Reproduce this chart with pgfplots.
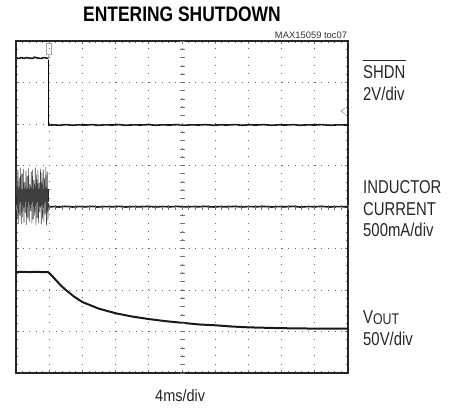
\documentclass[border=0pt]{standalone}
\usepackage{pgfplots}
\pgfplotsset{compat=1.18}
\usepackage{fontspec}
\setmainfont{Liberation Sans}
\begin{document}
\begin{tikzpicture}
\useasboundingbox (0,0) rectangle (450bp,-408bp);
\begin{axis}[
  scale only axis, width=332bp, height=332bp,
  at={(16bp,-373bp)}, anchor=south west,
  xmin=0, xmax=10, ymin=0, ymax=8,
  xtick={0,...,10}, ytick={0,...,8},
  xticklabels={}, yticklabels={},
  minor x tick num=4, minor y tick num=4,
  major tick length=3bp, minor tick length=2.2bp,
  tick style={black!55, line width=0.7bp},
  grid=major,
  x grid style={black!60, line width=0.8bp, dash pattern=on 1bp off 7.3bp},
  y grid style={black!60, line width=0.8bp, dash pattern=on 1bp off 5.64bp},
  axis line style={line width=2bp, black!85},
  clip=true,
]
% SHDN
\addplot[black!90, line width=1.6bp] coordinates {(0,7.59)(0.1,7.58)(0.15,7.60)(0.25,7.58)(0.3,7.60)(0.4,7.59)(0.5,7.58)(0.55,7.61)(0.65,7.59)(0.75,7.58)(0.85,7.60)(0.97,7.58)};
\addplot[black, line width=0.8bp] coordinates {(0.97,7.58)(0.97,5.97)};
\addplot[black!90, line width=1.6bp] coordinates {(0.97,5.97)(1.15,5.98)(1.3,5.97)(1.5,5.985)(1.7,5.97)(1.85,5.98)(2.1,5.975)(2.3,5.985)(2.45,5.97)(2.7,5.98)(2.9,5.975)(3.1,5.985)(3.3,5.97)(3.55,5.98)(3.75,5.975)(4.0,5.985)(4.2,5.97)(4.4,5.98)(4.65,5.975)(4.85,5.985)(5.05,5.97)(5.3,5.98)(5.5,5.975)(5.7,5.985)(5.95,5.97)(6.15,5.98)(6.35,5.975)(6.6,5.985)(6.8,5.97)(7.0,5.98)(7.25,5.975)(7.45,5.985)(7.7,5.97)(7.9,5.98)(8.1,5.975)(8.35,5.985)(8.55,5.97)(8.8,5.98)(9.0,5.975)(9.2,5.985)(9.45,5.97)(9.7,5.98)(10,5.975)};
% Inductor current burst
\addplot[fill=black!85, draw=black!85, line width=0.4bp] coordinates {(0,4.13)(0.98,4.13)(0.98,4.42)(0,4.42)} -- cycle;
\addplot[black!75, line width=0.55bp] coordinates {(0.00,4.30)(0.02,4.85)(0.04,3.70)(0.06,4.90)(0.08,3.60)(0.10,4.70)(0.12,3.80)(0.14,4.95)(0.16,3.58)(0.18,4.80)(0.20,3.75)(0.22,4.92)(0.24,3.62)(0.26,4.60)(0.28,3.85)(0.30,4.88)(0.32,3.57)(0.34,4.75)(0.36,3.72)(0.38,4.93)(0.40,3.65)(0.42,4.55)(0.44,3.90)(0.46,4.85)(0.48,3.60)(0.50,4.90)(0.52,3.70)(0.54,4.65)(0.56,3.80)(0.58,4.95)(0.60,3.56)(0.62,4.78)(0.64,3.74)(0.66,4.88)(0.68,3.62)(0.70,4.58)(0.72,3.88)(0.74,4.92)(0.76,3.58)(0.78,4.82)(0.80,3.70)(0.82,4.90)(0.84,3.64)(0.86,4.70)(0.88,3.82)(0.90,4.96)(0.92,3.55)(0.94,4.85)(0.96,3.68)(0.98,4.10)(1.00,4.00)};
\addplot[black!90, line width=1.6bp] coordinates {(0.98,4.00)(1.15,4.01)(1.3,4.00)(1.5,4.015)(1.7,4.00)(1.85,4.01)(2.1,4.005)(2.3,4.015)(2.45,4.00)(2.7,4.01)(2.9,4.005)(3.1,4.015)(3.3,4.00)(3.55,4.01)(3.75,4.005)(4.0,4.015)(4.2,4.00)(4.4,4.01)(4.65,4.005)(4.85,4.015)(5.05,4.00)(5.3,4.01)(5.5,4.005)(5.7,4.015)(5.95,4.00)(6.15,4.01)(6.35,4.005)(6.6,4.015)(6.8,4.00)(7.0,4.01)(7.25,4.005)(7.45,4.015)(7.7,4.00)(7.9,4.01)(8.1,4.005)(8.35,4.015)(8.55,4.00)(8.8,4.01)(9.0,4.005)(9.2,4.015)(9.45,4.00)(9.7,4.01)(10,4.005)};
% VOUT
\addplot[black!90, line width=2bp] coordinates {(0,2.43)(0.2,2.44)(0.4,2.43)(0.6,2.44)(0.8,2.43)(0.97,2.43)(1.1,2.33)(1.2,2.24)(1.35,2.11)(1.5,2.00)(1.75,1.84)(2.0,1.71)(2.5,1.55)(3.0,1.44)(3.5,1.36)(4.0,1.30)(4.5,1.25)(5.0,1.21)(5.5,1.17)(6.0,1.15)(6.5,1.12)(7.0,1.10)(7.5,1.09)(8.0,1.08)(9.0,1.07)(10,1.07)};
\end{axis}
% centre crosshair with fine ticks
\foreach \i in {0,...,40} {
  \draw[black!55, line width=0.7bp] (179.5bp,{-41bp-\i*8.3bp}) -- (184.5bp,{-41bp-\i*8.3bp});
}
\foreach \i in {0,...,50} {
  \draw[black!55, line width=0.7bp] ({16bp+\i*6.64bp},-204.5bp) -- ({16bp+\i*6.64bp},-209.5bp);
}
% trigger marker
\draw[black!35, line width=0.7bp] (46bp,-43bp) rectangle (51bp,-54bp);
\draw[black!35, line width=0.7bp] (48.5bp,-54bp) -- (48.5bp,-60bp);
\draw[black!35, line width=0.8bp] (345bp,-108bp) -- (341bp,-111bp) -- (345bp,-114bp);
% texts
\node[anchor=base, inner sep=0] at (182bp,-21.7bp) {\scalebox{0.83}[1]{\fontsize{21bp}{21bp}\selectfont\bfseries ENTERING SHUTDOWN}};
\node[anchor=base east, inner sep=0, black!80] at (347.3bp,-38.3bp) {\fontsize{9.4bp}{9.4bp}\selectfont MAX15059 toc07};
\draw[black!85, line width=0.9bp] (363bp,-60.7bp) -- (406bp,-60.7bp);
\node[anchor=base west, inner sep=0, black!85] at (363bp,-78.3bp) {\scalebox{0.8}[1]{\fontsize{18.6bp}{18.6bp}\selectfont SHDN}};
\node[anchor=base west, inner sep=0, black!85] at (363bp,-100bp) {\scalebox{0.8}[1]{\fontsize{18.6bp}{18.6bp}\selectfont 2V/div}};
\node[anchor=base west, inner sep=0, black!85] at (363bp,-193.3bp) {\scalebox{0.8}[1]{\fontsize{18.6bp}{18.6bp}\selectfont INDUCTOR}};
\node[anchor=base west, inner sep=0, black!85] at (363bp,-215bp) {\scalebox{0.8}[1]{\fontsize{18.6bp}{18.6bp}\selectfont CURRENT}};
\node[anchor=base west, inner sep=0, black!85] at (363bp,-236.7bp) {\scalebox{0.8}[1]{\fontsize{18.6bp}{18.6bp}\selectfont 500mA/div}};
\node[anchor=base west, inner sep=0, black!85] at (363bp,-323.3bp) {\scalebox{0.8}[1]{\fontsize{18.6bp}{18.6bp}\selectfont V\raisebox{-1bp}{\fontsize{15.4bp}{15.4bp}\selectfont OUT}}};
\node[anchor=base west, inner sep=0, black!85] at (363bp,-345bp) {\scalebox{0.8}[1]{\fontsize{18.6bp}{18.6bp}\selectfont 50V/div}};
\node[anchor=base west, inner sep=0, black!85] at (155bp,-401.7bp) {\scalebox{0.88}[1]{\fontsize{16.5bp}{16.5bp}\selectfont 4ms/div}};
\end{tikzpicture}
\end{document}
